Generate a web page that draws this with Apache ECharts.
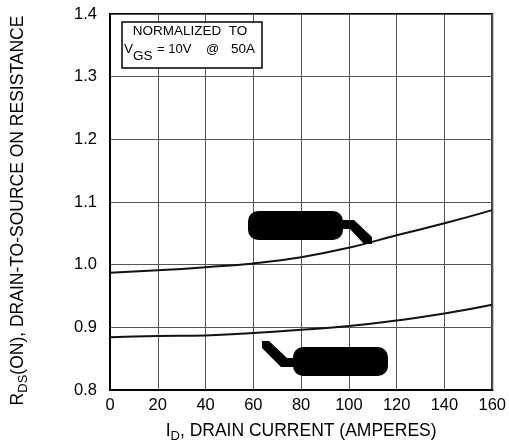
<!DOCTYPE html>
<html>
<head>
<meta charset="utf-8">
<script src="https://cdn.jsdelivr.net/npm/echarts@6/dist/echarts.min.js"></script>
<style>
html,body{margin:0;padding:0;background:#fff;}
#c{width:509px;height:448px;}
</style>
</head>
<body>
<div id="c"></div>
<script>
// Drain current (A)
var currents = [0, 20, 40, 60, 80, 100, 120, 140, 160];
// Normalized R_DS(on), upper curve
var upperCurve = [0.987, 0.991, 0.996, 1.002, 1.012, 1.027, 1.047, 1.066, 1.087];
// Normalized R_DS(on), lower curve
var lowerCurve = [0.884, 0.886, 0.887, 0.891, 0.896, 0.902, 0.911, 0.922, 0.936];
var xTicks = [0, 20, 40, 60, 80, 100, 120, 140, 160];
var yTicks = ['0.8', '0.9', '1.0', '1.1', '1.2', '1.3', '1.4'];

function pairs(xs, ys) { return xs.map(function (x, i) { return [x, ys[i]]; }); }

var FONT = '"Liberation Sans", Arial, Helvetica, sans-serif';
var chart = echarts.init(document.getElementById('c'), null, {renderer: 'canvas'});

var option = {
  animation: false,
  backgroundColor: '#fff',
  grid: {left: 110, right: 15, top: 14, bottom: 51, show: true, borderColor: '#000', borderWidth: 2, backgroundColor: 'transparent'},
  xAxis: {
    type: 'value', min: xTicks[0], max: xTicks[xTicks.length - 1], interval: 20,
    axisLine: {show: true, lineStyle: {color: '#000', width: 2}},
    axisTick: {show: false},
    splitLine: {show: true, lineStyle: {color: '#555', width: 1}},
    axisLabel: {color: '#000', fontSize: 16.5, fontFamily: FONT, margin: 7},
    name: '{a|I}{s|D}{a|, DRAIN CURRENT (AMPERES)}',
    nameLocation: 'middle', nameGap: 29,
    nameTextStyle: {
      rich: {
        a: {fontSize: 17.5, fontFamily: FONT, color: '#000'},
        s: {fontSize: 13, fontFamily: FONT, color: '#000', padding: [11, 0, 0, 0]}
      }
    }
  },
  yAxis: {
    type: 'value', min: 0.8, max: 1.4, interval: 0.1,
    axisLine: {show: true, lineStyle: {color: '#000', width: 2}},
    axisTick: {show: false},
    splitLine: {show: true, lineStyle: {color: '#555', width: 1}},
    axisLabel: {color: '#000', fontSize: 16.5, fontFamily: FONT, margin: 13,
      formatter: function (v) { return v.toFixed(1); }},
    name: '{a|R}{s|DS}{a|(ON), DRAIN-TO-SOURCE ON RESISTANCE}',
    nameLocation: 'middle', nameRotate: 90, nameGap: 80,
    nameTextStyle: {
      padding: [0, 17, 0, 0],
      rich: {
        a: {fontSize: 17.5, fontFamily: FONT, color: '#000'},
        s: {fontSize: 13, fontFamily: FONT, color: '#000', padding: [11, 0, 0, 0]}
      }
    }
  },
  series: [
    {type: 'line', data: pairs(currents, upperCurve), smooth: true, showSymbol: false,
      lineStyle: {color: '#111', width: 2}},
    {type: 'line', data: pairs(currents, lowerCurve), smooth: true, showSymbol: false,
      lineStyle: {color: '#111', width: 2}}
  ],
  graphic: [
    {type: 'rect', shape: {x: 122, y: 22, width: 140, height: 46}, style: {fill: '#fff', stroke: '#000', lineWidth: 1.5}, z: 100},
    {type: 'text', x: 190, y: 31, style: {text: 'NORMALIZED  TO', font: '13.5px ' + FONT, fill: '#000', textAlign: 'center', textVerticalAlign: 'middle'}, z: 101},
    {type: 'text', x: 124, y: 49, style: {text: 'V', font: '13.5px ' + FONT, fill: '#000', textAlign: 'left', textVerticalAlign: 'middle'}, z: 101},
    {type: 'text', x: 133, y: 56, style: {text: 'GS', font: '13.5px ' + FONT, fill: '#000', textAlign: 'left', textVerticalAlign: 'middle'}, z: 101},
    {type: 'text', x: 157, y: 49, style: {text: '= 10V', font: '13px ' + FONT, fill: '#000', textAlign: 'left', textVerticalAlign: 'middle'}, z: 101},
    {type: 'text', x: 206, y: 49, style: {text: '@', font: '13px ' + FONT, fill: '#000', textAlign: 'left', textVerticalAlign: 'middle'}, z: 101},
    {type: 'text', x: 231, y: 49, style: {text: '50A', font: '13.5px ' + FONT, fill: '#000', textAlign: 'left', textVerticalAlign: 'middle'}, z: 101},
    {type: 'rect', shape: {x: 248, y: 211, width: 95, height: 29, r: 10}, style: {fill: '#000'}, z: 100},
    {type: 'polygon', shape: {points: [[340, 220], [354, 220], [372, 237], [372, 244], [364, 244], [350, 229], [340, 229]]}, style: {fill: '#000'}, z: 100},
    {type: 'rect', shape: {x: 293, y: 347, width: 95, height: 29, r: 10}, style: {fill: '#000'}, z: 100},
    {type: 'polygon', shape: {points: [[262, 341], [269, 341], [287, 358], [297, 358], [297, 367], [281, 367], [262, 348]]}, style: {fill: '#000'}, z: 100}
  ]
};
chart.setOption(option);
</script>
</body>
</html>
